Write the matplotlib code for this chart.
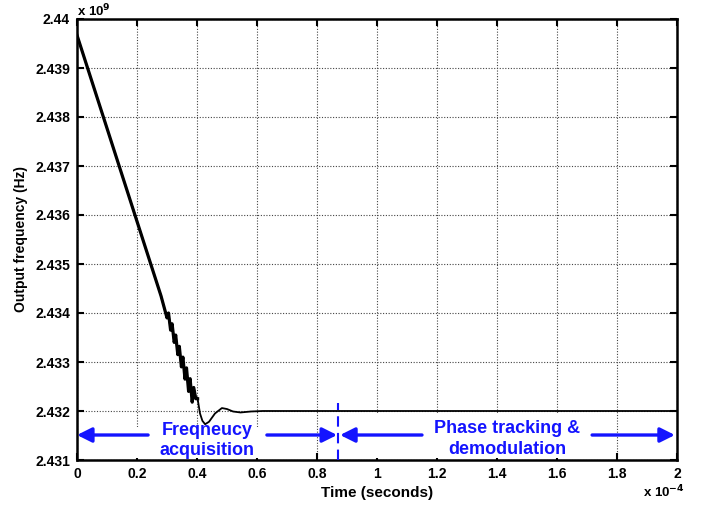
import matplotlib
matplotlib.use("Agg")
import matplotlib.pyplot as plt
from matplotlib.patches import Rectangle

plt.rcParams['font.family'] = ['Liberation Sans', 'DejaVu Sans']
plt.rcParams['font.weight'] = 'bold'

# ---- data (time in 1e-4 s, frequency in 1e9 Hz) ----
time_e4 = [0.000, 0.100, 0.200, 0.280, 0.300, 0.305, 0.312, 0.317,
           0.324, 0.329, 0.336, 0.341, 0.348, 0.353, 0.360, 0.365,
           0.372, 0.377, 0.384, 0.389, 0.396, 0.402, 0.410, 0.418,
           0.427, 0.440, 0.460, 0.483, 0.500, 0.520, 0.545, 0.580,
           0.620, 2.000]
freq_e9 = [2.43967, 2.43777, 2.43587, 2.43435, 2.43390, 2.43400, 2.43365, 2.43378,
           2.43340, 2.43355, 2.43315, 2.43332, 2.43290, 2.43310, 2.43265, 2.43288,
           2.43240, 2.43266, 2.43218, 2.43248, 2.43225, 2.43225, 2.43195, 2.43180,
           2.43173, 2.43178, 2.43195, 2.43206, 2.43204, 2.43199, 2.43197, 2.43199,
           2.43200, 2.43200]
# the acquisition ramp (with ripple) is drawn heavier: first n points
ramp_points = 22

x_ticks = [0, 0.2, 0.4, 0.6, 0.8, 1.0, 1.2, 1.4, 1.6, 1.8, 2.0]
x_tick_labels = ['0', '0.2', '0.4', '0.6', '0.8', '1', '1.2', '1.4', '1.6', '1.8', '2']
y_ticks = [2.431, 2.432, 2.433, 2.434, 2.435, 2.436, 2.437, 2.438, 2.439, 2.440]
y_tick_labels = ['2.431', '2.432', '2.433', '2.434', '2.435', '2.436', '2.437', '2.438', '2.439', '2.44']

boundary_t = 0.87
arrow_f = 2.43151
acq_left = (0.237, 0.0)
acq_right = (0.633, 0.867)
pha_left = (1.15, 0.877)
pha_right = (1.717, 1.993)

blue = '#1414ff'

fig = plt.figure(figsize=(7.06, 5.05), dpi=100)
ax = fig.add_axes([77/706, 1-460/505, 600/706, 441/505])

ax.set_xlim(0, 2)
ax.set_ylim(2.431, 2.440)
ax.set_xticks(x_ticks)
ax.set_xticklabels(x_tick_labels)
ax.set_yticks(y_ticks)
ax.set_yticklabels(y_tick_labels)
ax.grid(True, color='#444444', linestyle=(0, (1, 1.5)), linewidth=0.8, zorder=0)
ax.set_axisbelow(True)

for s in ax.spines.values():
    s.set_linewidth(1.8)
ax.tick_params(direction='in', length=5, width=1.5, top=True, right=True,
               labelsize=10, pad=5)
for lab in ax.get_xticklabels() + ax.get_yticklabels():
    lab.set_fontweight('bold')

# white backgrounds behind annotation text (cover grid)
ax.add_patch(Rectangle((0.15, 2.43105), 0.48, 0.00062, facecolor='white',
                       edgecolor='none', zorder=1))
ax.add_patch(Rectangle((0.92, 2.43105), 0.72, 0.00091, facecolor='white',
                       edgecolor='none', zorder=1))

ax.plot(time_e4, freq_e9, color='black', linewidth=1.3, zorder=3,
        solid_joinstyle='round')
ax.plot(time_e4[:ramp_points], freq_e9[:ramp_points], color='black',
        linewidth=2.3, zorder=3, solid_joinstyle='round')

# boundary line
ax.plot([boundary_t, boundary_t], [2.431, 2.43216], color=blue,
        linestyle=(0, (5, 3)), linewidth=1.5, zorder=4)

aprops = dict(arrowstyle='-|>', color=blue, lw=2.4, mutation_scale=22,
              shrinkA=0, shrinkB=0)
for tail, head in [acq_left, acq_right, pha_left, pha_right]:
    ax.annotate('', xy=(head, arrow_f), xytext=(tail, arrow_f),
                arrowprops=aprops, zorder=5)

ax.text(0.433, 2.43160, 'Freqneucy', color=blue, fontsize=13, fontweight='bold',
        ha='center', va='center', zorder=6)
ax.text(0.433, 2.43119, 'acquisition', color=blue, fontsize=13, fontweight='bold',
        ha='center', va='center', zorder=6)
ax.text(1.433, 2.43165, 'Phase tracking &', color=blue, fontsize=13, fontweight='bold',
        ha='center', va='center', zorder=6)
ax.text(1.433, 2.43121, 'demodulation', color=blue, fontsize=13, fontweight='bold',
        ha='center', va='center', zorder=6)

ax.set_xlabel('Time (seconds)', fontsize=11, fontweight='bold', labelpad=4)
ax.set_ylabel('Output frequency (Hz)', fontsize=10, fontweight='bold', labelpad=5)

fig.text(77/706, 1-11/505, r'x 10$^{\mathbf{9}}$', fontsize=9.5, fontweight='bold',
         ha='left', va='center')
fig.text(643/706, 1-492/505, r'x 10$^{\mathbf{-4}}$', fontsize=9.5, fontweight='bold',
         ha='left', va='center')

fig.savefig('out.png', dpi=100)
